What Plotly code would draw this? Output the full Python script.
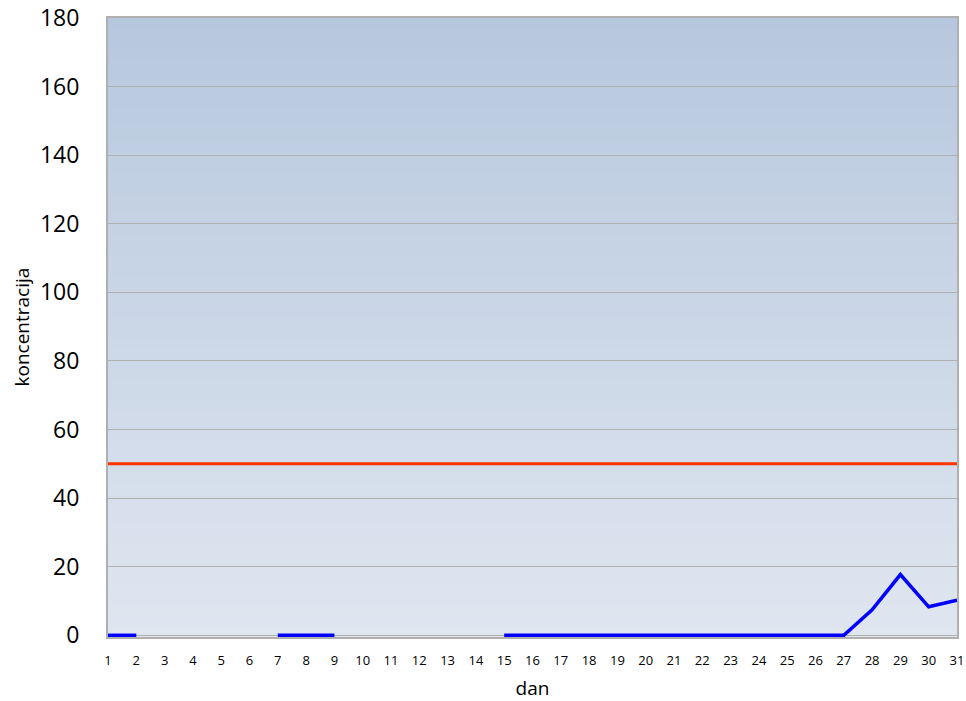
import plotly.graph_objects as go

days = list(range(1, 32))
concentration = [0, 0, None, None, None, None, 0, 0, 0, None, None, None, None, None,
                 0, 0, 0, 0, 0, 0, 0, 0, 0, 0, 0, 0, 0, 7.4, 17.7, 8.3, 10.2]
limit_value = 50
limit_series = [limit_value] * len(days)

fig = go.Figure()

# gradient plot background
top = (183, 200, 222)
bot = (223, 230, 240)
n = 60
shapes = []
for i in range(n):
    t = i / (n - 1)
    c = tuple(round(bot[k] + (top[k] - bot[k]) * t) for k in range(3))
    shapes.append(dict(type="rect", xref="x domain", yref="y domain",
                       x0=0, x1=1, y0=i / n, y1=(i + 1) / n + 0.002,
                       fillcolor="rgb(%d,%d,%d)" % c, line=dict(width=0), layer="below"))

fig.add_trace(go.Scatter(x=days, y=limit_series, mode="lines",
                         line=dict(color="#ff3300", width=3), showlegend=False, hoverinfo="skip"))
fig.add_trace(go.Scatter(x=days, y=concentration, mode="lines", cliponaxis=False,
                         line=dict(color="#0000ff", width=3.5), connectgaps=False, showlegend=False))

fig.add_annotation(text="koncentracija", xref="paper", yref="paper",
                   x=-87 / 849, y=0.5, xanchor="center", yanchor="middle",
                   textangle=-90, showarrow=False, font=dict(size=19))

fig.update_layout(
    width=966, height=701,
    margin=dict(l=108, r=9, t=18, b=64, autoexpand=False),
    paper_bgcolor="white", plot_bgcolor="rgba(0,0,0,0)",
    shapes=shapes,
    font=dict(family="Open Sans, Liberation Sans, sans-serif", color="black"),
    xaxis=dict(range=[1, 31], tickmode="array", tickvals=days, ticktext=[str(d) for d in days],
               tickfont=dict(size=13), showgrid=False, zeroline=False, automargin=False,
               showline=True, linecolor="#b0b0b0", linewidth=2, mirror=True, layer="below traces",
               ticks="outside", ticklen=10, tickcolor="rgba(0,0,0,0)",
               title=dict(text="dan", font=dict(size=19), standoff=16)),
    yaxis=dict(range=[-0.5, 180], tickvals=list(range(0, 181, 20)), tickfont=dict(size=23), showgrid=True,
               gridcolor="#b0b0b0", gridwidth=1, zeroline=False, automargin=False,
               showline=True, linecolor="#b0b0b0", linewidth=2, mirror=True, layer="below traces",
               ticks="outside", ticklen=22, tickcolor="rgba(0,0,0,0)"),
)

fig.write_html("out.html", config={"displayModeBar": False},
               post_script="document.body.style.margin='0';document.body.style.overflow='hidden';")
